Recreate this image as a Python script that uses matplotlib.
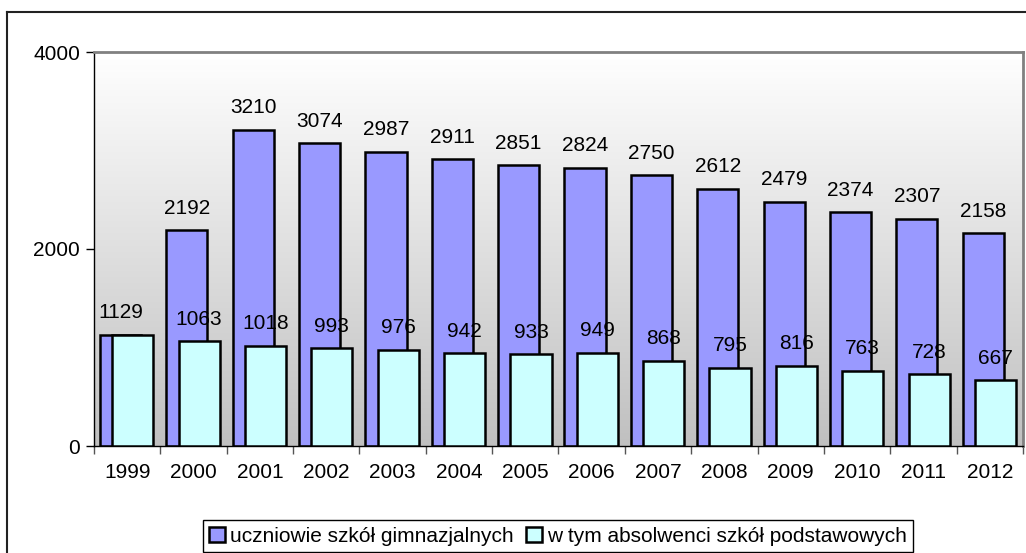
import matplotlib.pyplot as plt
import numpy as np
from matplotlib.lines import Line2D

years = ["1999", "2000", "2001", "2002", "2003", "2004", "2005",
         "2006", "2007", "2008", "2009", "2010", "2011", "2012"]
uczniowie = [1129, 2192, 3210, 3074, 2987, 2911, 2851, 2824, 2750, 2612, 2479, 2374, 2307, 2158]
absolwenci = [1129, 1063, 1018, 993, 976, 942, 933, 949, 868, 795, 816, 763, 728, 667]
series_names = ["uczniowie szkół gimnazjalnych", "w tym absolwenci szkół podstawowych"]

plt.rcParams['font.family'] = ['Liberation Sans', 'DejaVu Sans']
FS = 15

fig = plt.figure(figsize=(10.26, 5.53), dpi=100)
ax = fig.add_axes([94 / 1026, 1 - 446 / 553, (1023 - 94) / 1026, (446 - 52) / 553])

# outer chart border (cut at right/bottom)
fig.add_artist(Line2D([7 / 1026, 7 / 1026], [0, 1 - 12 / 553], transform=fig.transFigure, color='#222222', lw=1.5))
fig.add_artist(Line2D([7 / 1026, 1], [1 - 12 / 553, 1 - 12 / 553], transform=fig.transFigure, color='#222222', lw=1.5))

# gradient background of plot area
grad = np.linspace(0, 1, 256).reshape(-1, 1)
ax.imshow(grad, extent=[0, 1, 0, 1], transform=ax.transAxes, aspect='auto',
          cmap=plt.matplotlib.colors.LinearSegmentedColormap.from_list('g', ['#c0c0c0', '#ffffff']),
          origin='lower', zorder=0)

x = np.arange(len(years))
w = 0.62
ax.bar(x - 0.1, uczniowie, w, color='#9999ff', edgecolor='black', linewidth=1.8, zorder=2, label=series_names[0])
ax.bar(x + 0.085, absolwenci, w, color='#ccffff', edgecolor='black', linewidth=1.8, zorder=3, label=series_names[1])

for i in range(len(years)):
    ax.annotate(str(uczniowie[i]), (x[i] - 0.1, uczniowie[i]), xytext=(0, 9), textcoords='offset points',
                ha='center', va='bottom', fontsize=FS, zorder=5)
    if absolwenci[i] != uczniowie[i]:
        ax.annotate(str(absolwenci[i]), (x[i] + 0.085, absolwenci[i]), xytext=(0, 9), textcoords='offset points',
                    ha='center', va='bottom', fontsize=FS, zorder=5)

ax.set_xlim(-0.5, len(years) - 0.5)
ax.set_ylim(0, 4000)
ax.set_yticks([0, 2000, 4000])
ax.set_xticks(x)
ax.set_xticklabels(years)
ax.set_xticks(np.arange(-0.5, len(years), 1), minor=True)
ax.tick_params(axis='x', which='major', length=0, pad=12, labelsize=FS)
ax.tick_params(axis='x', which='minor', length=6, width=1, color='#555555')
ax.tick_params(axis='y', length=6, width=1, pad=4, labelsize=FS)

ax.spines['top'].set_color('#808080')
ax.spines['right'].set_color('#808080')
ax.spines['top'].set_linewidth(2)
ax.spines['right'].set_linewidth(2)
ax.spines['left'].set_linewidth(1)
ax.spines['bottom'].set_linewidth(1)

leg = ax.legend(loc='center', bbox_to_anchor=(558 / 1026, 1 - 536 / 553), bbox_transform=fig.transFigure,
                ncol=2, fontsize=FS, frameon=True, fancybox=False, edgecolor='black', framealpha=1,
                handlelength=0.75, handleheight=0.75, handletextpad=0.25, columnspacing=0.6,
                borderpad=0.3, borderaxespad=0)
leg.get_frame().set_linewidth(1)

fig.savefig('out.png', dpi=100)
